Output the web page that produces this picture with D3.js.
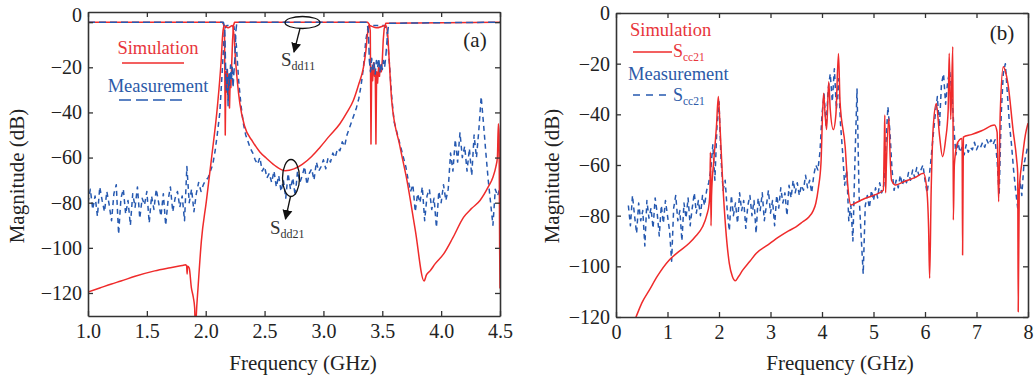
<!DOCTYPE html>
<html>
<head>
<meta charset="utf-8">
<script src="https://cdn.jsdelivr.net/npm/d3@7"></script>
<style>
  body { margin: 0; background: #fff; }
  text { font-family: "Liberation Serif", "Times New Roman", serif; }
</style>
</head>
<body>
<div id="chart"></div>
<script>
var W = 1036;
var H = 379;

var red = "#ef2b2b";
var blue = "#2659b0";
var ink = "#333";

// ---- panel (a): differential mode ----
var freqTicksA = [1.0, 1.5, 2.0, 2.5, 3.0, 3.5, 4.0, 4.5];
var magTicksA = [-120, -100, -80, -60, -40, -20, 0];

var simDd21Freq = [1.00, 1.10, 1.20, 1.28, 1.40, 1.567, 1.70, 1.80, 1.83, 1.838, 1.842, 1.846, 1.86, 1.878, 1.895, 1.906, 1.913, 1.92, 1.935, 1.963,
  2.005, 2.05, 2.10, 2.13, 2.145, 2.155, 2.19, 2.228, 2.24, 2.255, 2.27, 2.29, 2.33, 2.40, 2.46, 2.52, 2.60, 2.674, 2.75, 2.82,
  2.90, 2.97, 3.05, 3.14, 3.20, 3.254, 3.30, 3.34, 3.36, 3.375, 3.385, 3.45, 3.53, 3.545, 3.56, 3.58, 3.65, 3.71, 3.78, 3.855,
  3.875, 3.906, 3.95, 4.02, 4.10, 4.19, 4.26, 4.33, 4.40, 4.44, 4.465, 4.478, 4.486, 4.492, 4.497, 4.50];
var simDd21Mag = [-119.6, -117.8, -116, -114.7, -112.6, -110.2, -108.8, -107.8, -107.5, -108, -111.6, -108.2, -109, -117.6, -122, -126.5, -140, -130, -117.6, -97,
  -79.5, -60, -37, -18, -5, -1.5, -2.5, -1.5, -6, -18, -27, -36, -46, -53, -57.5, -60.5, -64, -65.8, -65, -63,
  -59.5, -55.5, -50.5, -45, -40, -34.7, -27.5, -20, -13, -5, -1.5, -2.5, -1.5, -5, -18, -34.7, -55, -70.2, -92, -114.7,
  -112, -110.2, -107, -102.8, -95.5, -86.5, -82.5, -79, -73, -68.7, -64, -59.9, -45, -50, -100, -118];

var simDd11Freq = [1.0, 2.14, 2.152, 2.16, 2.166, 2.172, 2.178, 2.184, 2.19, 2.196, 2.202, 2.208, 2.214, 2.22, 2.228, 2.236, 2.245,
  3.375, 3.39, 3.398, 3.404, 3.41, 3.418, 3.426, 3.434, 3.44, 3.446, 3.452, 3.46, 3.468, 3.476, 3.484, 3.492, 3.50, 3.508, 3.516, 3.53, 4.5];
var simDd11Mag = [0, 0, -1, -6, -50, -22, -31, -21, -34, -24, -38, -26, -29, -20, -8, -1.5, 0,
  0, -1, -4, -54, -20, -26, -18, -24, -21, -54, -22, -27, -20, -24, -19, -22, -17, -8, -3, -0.5, 0];

var measDd11Freq = [1.0, 2.15, 2.162, 2.168, 2.175, 2.182, 2.19, 2.197, 2.204, 2.211, 2.218, 2.225, 2.232, 2.24, 2.248, 2.256, 2.265,
  3.37, 3.382, 3.39, 3.40, 3.41, 3.42, 3.43, 3.44, 3.45, 3.46, 3.47, 3.48, 3.49, 3.50, 3.51, 3.52, 3.53, 3.545, 3.555, 4.5];
var measDd11Mag = [0, 0, -3, -18, -30, -21, -37, -23, -28, -19, -26, -20, -29, -22, -16, -4, 0,
  0, -4, -17, -22, -16, -21, -18, -23, -17, -20, -16, -22, -18, -21, -17, -20, -15, -5, -0.5, 0];

// measured Sdd21, sampled every 0.02 GHz from 1.00 GHz
var measDd21Start = 1.0;
var measDd21Step = 0.02;
var measDd21Mag = [
  -80, -74, -83, -77, -86, -73, -79, -84, -75, -81,
  -88, -76, -72, -94, -78, -74, -85, -79, -90, -76,
  -82, -73, -87, -78, -81, -75, -89, -77, -83, -74,
  -80, -86, -76, -90, -79, -73, -84, -78, -75, -82,
  -77, -88, -64, -80, -74, -84, -76, -71,
  -75, -72, -70, -69, -66, -63, -57, -49, -40, -22,
  -3, -1.5, -1.5, -1.5, -2,
  -10, -26, -37, -45, -50, -53, -56, -58, -61, -63, -60, -66, -64, -69, -67, -71, -66,
  -73, -68, -75, -70, -78, -67, -74, -69, -77, -66, -71, -68, -64, -72, -67, -65, -70, -62, -66, -64,
  -61, -65, -60, -62, -58, -60, -56, -57, -53, -55, -50, -47, -44, -41, -38, -34, -28, -20, -8, -2,
  -1.5, -1.5, -1.5, -1.5, -1.5, -1.5, -1.5,
  -4, -18, -33, -44, -48, -52, -56, -60, -64, -70, -75,
  -72, -84, -76, -80, -73, -88, -77, -74, -83, -78, -91, -75, -80, -72, -79, -74,
  -58, -66, -52, -62, -49, -60, -55, -66, -56, -68, -50, -60, -48, -33, -45, -58, -70, -80, -90, -74, -77, -73];

// ---- panel (b): common mode ----
var freqTicksB = [0, 1, 2, 3, 4, 5, 6, 7, 8];
var magTicksB = [-120, -100, -80, -60, -40, -20, 0];

var simCc21Freq = [0.30, 0.388, 0.50, 0.647, 0.80, 1.035, 1.20, 1.42, 1.55, 1.68, 1.76, 1.81, 1.825, 1.832, 1.838, 1.845, 1.855, 1.90, 1.95, 1.987,
  2.02, 2.07, 2.13, 2.20, 2.26, 2.317, 2.38, 2.46, 2.6, 2.72, 2.95, 3.17, 3.35, 3.495, 3.62, 3.75, 3.83, 3.88, 3.93, 3.98,
  4.03, 4.06, 4.09, 4.13, 4.16, 4.22, 4.27, 4.32, 4.35, 4.45, 4.50, 4.56, 4.65, 4.80, 5.00, 5.19, 5.21, 5.22, 5.235, 5.25,
  5.30, 5.32, 5.35, 5.43, 5.6, 5.8, 5.97, 6.03, 6.07, 6.09, 6.12, 6.16, 6.22, 6.28, 6.34, 6.40, 6.45, 6.47, 6.50, 6.54,
  6.55, 6.57, 6.62, 6.67, 6.72, 6.73, 6.745, 6.9, 7.1, 7.35, 7.40, 7.43, 7.46, 7.52, 7.56, 7.61, 7.71, 7.78, 7.80, 7.81,
  7.83, 7.88, 7.95, 8.00];
var simCc21Mag = [-124, -120, -114.5, -109.4, -104, -97.5, -94.5, -90.9, -88, -84.4, -80, -75, -70, -55, -62, -84, -72, -58, -45, -33,
  -45, -66, -85, -98.8, -104, -105.7, -104, -101.5, -98, -94.9, -91.5, -88.3, -86, -84.4, -82.5, -80.4, -78, -75.1, -69, -59.3,
  -31.7, -40, -46, -27.1, -38, -46, -40, -16, -35, -52.8, -68, -75.8, -75, -73.5, -72, -70, -50, -40.3, -71, -60,
  -41.6, -55, -66, -67.9, -66.5, -65, -63.3, -68.6, -85, -104.7, -70, -45, -35.7, -48, -56.7, -50, -38.3, -15.9, -42, -13.3,
  -81.7, -60, -52, -50, -49.5, -95.5, -49, -48, -46.5, -44.2, -47, -74.5, -40, -21.2, -23, -27.8, -46.2, -58, -63.3, -117.9,
  -70, -59.3, -48, -43.5];

// measured Scc21, sampled every 0.04 GHz from 0.24 GHz
var measCc21Start = 0.24;
var measCc21Step = 0.04;
var measCc21Mag = [
  -76, -84, -72, -80, -87, -75, -82, -78, -92, -74,
  -81, -77, -85, -73, -79, -88, -76, -83, -74, -80,
  -86, -98, -77, -72, -82, -78, -90, -75, -81, -73,
  -84, -77, -71, -79, -74, -80, -72, -76, -70, -67,
  -62, -52, -66, -45, -35, -58, -70, -66, -78, -86,
  -72, -80, -75, -83, -71, -78, -74, -85, -76, -72,
  -80, -74, -87, -73, -78, -71, -82, -76, -70, -79,
  -74, -84, -72, -77, -69, -75, -71, -80, -68, -73,
  -66, -71, -67, -72, -68, -70, -64, -69, -66, -71,
  -64, -60, -62, -55, -40, -32, -45, -30, -24, -35,
  -22, -38, -26, -44, -55, -68, -62, -82, -76, -90,
  -58, -30, -72, -88, -103, -76, -72, -77, -70, -74,
  -69, -73, -67, -71, -68, -52, -37, -47, -62, -70,
  -66, -69, -64, -68, -65, -67, -63, -66, -62, -65,
  -61, -64, -62, -60, -66, -71, -65, -57, -48, -40,
  -33, -45, -28, -24, -36, -27, -23, -31, -45, -56,
  -51, -55, -53, -56, -52, -55, -53, -54, -51, -54,
  -52, -53, -51, -53, -50, -52, -50, -52, -50, -58,
  -72, -40, -24, -20, -32, -44, -52, -62, -70, -77,
  -66, -72, -60, -56, -52];

var svg = d3
  .select("#chart")
  .append("svg")
  .attr("width", W)
  .attr("height", H);

var defs = svg.append("defs");
defs
  .append("marker")
  .attr("id", "arrowhead")
  .attr("viewBox", "0 0 10 10")
  .attr("refX", 9)
  .attr("refY", 5)
  .attr("markerUnits", "userSpaceOnUse")
  .attr("markerWidth", 10)
  .attr("markerHeight", 11)
  .attr("orient", "auto")
  .append("path")
  .attr("d", "M0,0L10,5L0,10Z")
  .attr("fill", "#111");

function gridFreq(start, step, n) {
  return d3.range(n).map(function (i) {
    return +(start + step * i).toFixed(3);
  });
}

// Draw the frame, ticks (inward on all four sides) and labels of one panel
function makePanel(id, box, xDomain, yDomain, xTicks, xFormat, yTicks) {
  var x = d3.scaleLinear().domain(xDomain).range([box.left, box.right]);
  var y = d3.scaleLinear().domain(yDomain).range([box.bottom, box.top]);

  defs
    .append("clipPath")
    .attr("id", id)
    .append("rect")
    .attr("x", box.left)
    .attr("y", box.top)
    .attr("width", box.right - box.left)
    .attr("height", box.bottom - box.top);

  var g = svg.append("g");
  var lines = g.append("g").attr("clip-path", "url(#" + id + ")");
  var frame = g.append("g");

  frame
    .append("g")
    .attr("class", "xaxis")
    .attr("transform", "translate(0," + box.bottom + ")")
    .call(d3.axisBottom(x).tickValues(xTicks).tickFormat(xFormat).tickSizeInner(-5).tickSizeOuter(0).tickPadding(8));
  frame
    .append("g")
    .attr("transform", "translate(0," + box.top + ")")
    .call(d3.axisTop(x).tickValues(xTicks).tickFormat("").tickSizeInner(-5).tickSizeOuter(0));
  frame
    .append("g")
    .attr("class", "yaxis")
    .attr("transform", "translate(" + box.left + ",0)")
    .call(d3.axisLeft(y).tickValues(yTicks).tickFormat(d3.format("d")).tickSizeInner(-5).tickSizeOuter(0).tickPadding(6));
  frame
    .append("g")
    .attr("transform", "translate(" + box.right + ",0)")
    .call(d3.axisRight(y).tickValues(yTicks).tickFormat("").tickSizeInner(-5).tickSizeOuter(0));

  frame.selectAll("path.domain").attr("stroke", ink).attr("stroke-width", 1.6);
  frame.selectAll(".tick line").attr("stroke", ink).attr("stroke-width", 1.3);
  frame
    .selectAll(".tick text")
    .attr("font-family", "Liberation Serif, serif")
    .attr("font-size", 20)
    .attr("fill", "#222");
  frame.selectAll("g").attr("font-family", null).attr("font-size", null);

  return { x: x, y: y, lines: lines, g: g };
}

function drawLine(panel, freq, mag, color, dash, smooth) {
  var line = d3
    .line()
    .x(function (d) {
      return panel.x(d[0]);
    })
    .y(function (d) {
      return panel.y(d[1]);
    })
    .curve(smooth ? d3.curveMonotoneX : d3.curveLinear);
  panel.lines
    .append("path")
    .datum(d3.zip(freq, mag))
    .attr("d", line)
    .attr("fill", "none")
    .attr("stroke", color)
    .attr("stroke-width", 1.5)
    .attr("stroke-linejoin", "round")
    .attr("stroke-dasharray", dash);
}

function addText(x, y, str, size, color, anchor) {
  return svg
    .append("text")
    .attr("x", x)
    .attr("y", y)
    .attr("font-size", size)
    .attr("fill", color)
    .attr("text-anchor", anchor || "start")
    .text(str);
}

function addSub(x, y, main, sub, size, subSize, color) {
  var t = svg.append("text").attr("x", x).attr("y", y).attr("fill", color).attr("font-size", size);
  t.append("tspan").text(main);
  t.append("tspan").attr("dy", 4).attr("font-size", subSize).text(sub);
  return t;
}

// ---------- panel (a) ----------
var pa = makePanel("clipA", { left: 88, right: 500, top: 12, bottom: 316 }, [1.0, 4.5], [-130.2, 4.5],
  freqTicksA, d3.format(".1f"), magTicksA);

// the "0" label sits above its tick in the original
pa.g.selectAll(".yaxis .tick text").filter(function (d) { return d === 0; }).attr("y", -7);

var measDd21Freq = gridFreq(measDd21Start, measDd21Step, measDd21Mag.length);
drawLine(pa, measDd21Freq, measDd21Mag, blue, "5,4", false);
drawLine(pa, simDd21Freq, simDd21Mag, red, null, true);
drawLine(pa, simDd11Freq, simDd11Mag, red, null, false);
drawLine(pa, measDd11Freq, measDd11Mag, blue, "7,4", false);

// legend (a)
addText(158, 54, "Simulation", 18.5, "#e8353b", "middle");
svg.append("line").attr("x1", 122).attr("x2", 184).attr("y1", 63).attr("y2", 63).attr("stroke", red).attr("stroke-width", 1.5);
addText(158, 92, "Measurement", 18.5, "#2c5aa8", "middle");
svg.append("line").attr("x1", 119).attr("x2", 184).attr("y1", 100).attr("y2", 100).attr("stroke", blue).attr("stroke-width", 1.5).attr("stroke-dasharray", "12,5");

addText(475, 47, "(a)", 21, "#222", "middle");

// annotations (a)
svg.append("ellipse").attr("cx", 302.5).attr("cy", 22.5).attr("rx", 17.5).attr("ry", 6).attr("fill", "none").attr("stroke", "#111").attr("stroke-width", 1.3);
svg.append("line").attr("x1", 300).attr("y1", 28.5).attr("x2", 294).attr("y2", 52).attr("stroke", "#111").attr("stroke-width", 1.3).attr("marker-end", "url(#arrowhead)");
addSub(281, 66, "S", "dd11", 19, 12, "#333");

svg.append("ellipse").attr("cx", 291).attr("cy", 178).attr("rx", 8.5).attr("ry", 18.5).attr("fill", "none").attr("stroke", "#111").attr("stroke-width", 1.3);
svg.append("line").attr("x1", 290.5).attr("y1", 196.5).attr("x2", 285.5).attr("y2", 219).attr("stroke", "#111").attr("stroke-width", 1.3).attr("marker-end", "url(#arrowhead)");
addSub(270, 234, "S", "dd21", 19, 12, "#333");

// ---------- panel (b) ----------
var pb = makePanel("clipB", { left: 616, right: 1028, top: 13, bottom: 317 }, [0, 8], [-120, 0],
  freqTicksB, d3.format("d"), magTicksB);

var measCc21Freq = gridFreq(measCc21Start, measCc21Step, measCc21Mag.length);
drawLine(pb, measCc21Freq, measCc21Mag, blue, "5,4", false);
drawLine(pb, simCc21Freq, simCc21Mag, red, null, true);

// legend (b)
addText(630, 36, "Simulation", 18.5, "#e8353b", "start");
svg.append("line").attr("x1", 633).attr("x2", 672).attr("y1", 52).attr("y2", 52).attr("stroke", red).attr("stroke-width", 1.5);
addSub(673, 57, "S", "cc21", 18, 11.5, "#e8353b");
addText(628, 80, "Measurement", 18.5, "#2c5aa8", "start");
svg.append("line").attr("x1", 633).attr("x2", 671).attr("y1", 95).attr("y2", 95).attr("stroke", blue).attr("stroke-width", 1.5).attr("stroke-dasharray", "7,6");
addSub(673, 101, "S", "cc21", 18, 11.5, "#2c5aa8");

addText(1002, 40, "(b)", 21, "#222", "middle");

// axis titles
addText(303, 370, "Frequency (GHz)", 21, "#222", "middle");
addText(840, 370, "Frequency (GHz)", 21, "#222", "middle");
addText(0, 0, "Magnitude (dB)", 21, "#222", "middle").attr("transform", "translate(24,176) rotate(-90)");
addText(0, 0, "Magnitude (dB)", 21, "#222", "middle").attr("transform", "translate(559,176) rotate(-90)");
</script>
</body>
</html>
